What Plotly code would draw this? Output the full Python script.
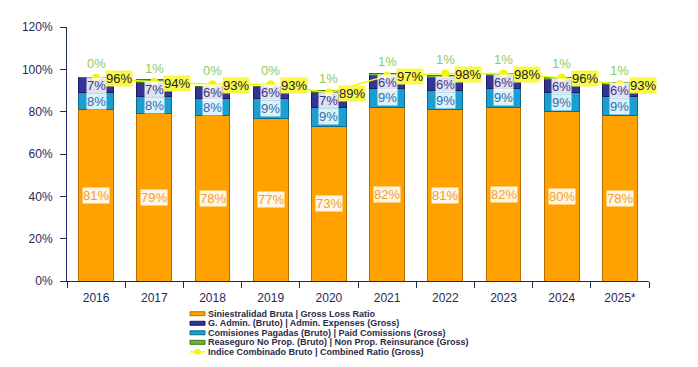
import plotly.graph_objects as go

years = ["2016", "2017", "2018", "2019", "2020", "2021", "2022", "2023", "2024", "2025*"]
loss_ratio = [81, 79, 78, 77, 73, 82, 81, 82, 80, 78]
admin_exp = [7, 7, 6, 6, 7, 6, 6, 6, 6, 6]
commissions = [8, 8, 8, 9, 9, 9, 9, 9, 9, 9]
reinsurance = [0, 1, 0, 0, 1, 1, 1, 1, 1, 1]
combined = [96, 94, 93, 93, 89, 97, 98, 98, 96, 93]

names = [
    "Siniestralidad Bruta | Gross Loss Ratio",
    "G. Admin. (Bruto) | Admin. Expenses (Gross)",
    "Comisiones Pagadas (Bruto) | Paid Comissions (Gross)",
    "Reaseguro No Prop. (Bruto) | Non Prop. Reinsurance (Gross)",
    "Indice Combinado Bruto | Combined Ratio (Gross)",
]

c_loss = "#FFA200"
c_loss_edge = "#B86E00"
c_comm = "#1B9FD0"
c_comm_edge = "#0C6A8E"
c_admin = "#343496"
c_admin_edge = "#1C1C5E"
c_re = "#6DB33F"
c_line = "#F5F500"
navy = "#1F2A5A"

fig = go.Figure()
stack = [
    (loss_ratio, names[0], c_loss, c_loss_edge),
    (commissions, names[2], c_comm, c_comm_edge),
    (admin_exp, names[1], c_admin, c_admin_edge),
    (reinsurance, names[3], c_re, "#3E7A1C"),
]
for vals, nm, col, edge in stack:
    fig.add_trace(go.Bar(x=years, y=vals, name=nm, width=0.6,
                         marker=dict(color=col, line=dict(color=edge, width=1)),
                         showlegend=False, hoverinfo="skip"))

fig.add_trace(go.Scatter(x=years, y=combined, mode="lines+markers", name=names[4],
                         line=dict(color=c_line, width=1.5),
                         marker=dict(color=c_line, size=8), showlegend=False))

ann = []
lab_font = dict(family="Arial", size=13)
for i, yr in enumerate(years):
    l, c, a = loss_ratio[i], commissions[i], admin_exp[i]
    ann.append(dict(x=i, y=l / 2, text=f"{l}%", showarrow=False,
                    font=dict(lab_font, color="#F0A030"), bgcolor="rgba(255,255,255,0.9)",
                    borderpad=0))
    ann.append(dict(x=i, y=l + c / 2, text=f"{c}%", showarrow=False,
                    font=dict(lab_font, color="#2A6FB0"), bgcolor="rgba(255,255,255,0.85)",
                    borderpad=0))
    ann.append(dict(x=i, y=l + c + a / 2, text=f"{a}%", showarrow=False,
                    font=dict(lab_font, color="#3A3A8A"), bgcolor="rgba(255,255,255,0.85)",
                    borderpad=0))
    ann.append(dict(x=i, y=combined[i], yshift=14, text=f"{reinsurance[i]}%", showarrow=False,
                    font=dict(family="Arial", size=13, color="#8CCB5E")))
    ann.append(dict(x=i, y=combined[i], xshift=23, yshift=-1, text=f"{combined[i]}%",
                    showarrow=False, font=dict(family="Arial", size=13, color="#222222"),
                    bgcolor="#F8F84A", borderpad=0))

# plot area in page pixels (body has 8px margin)
PL, PT, PW, PH = 67, 25, 582, 256
shapes = []
leg_colors = [c_loss, c_admin, c_comm, c_re, c_line]
leg_edges = [c_loss_edge, c_admin_edge, c_comm_edge, "#3E7A1C", c_line]
y0 = 314
dy = 9.6
for k, nm in enumerate(names):
    yc = y0 + k * dy
    py = 1 - (yc - PT) / PH
    ann.append(dict(xref="paper", yref="paper", x=(206 - PL) / PW, y=py,
                    xanchor="left", yanchor="middle", text="<b>" + nm + "</b>", showarrow=False,
                    font=dict(family="Arial", size=9, color="#2A2A48")))
    px0 = (190 - PL) / PW
    px1 = (205 - PL) / PW
    if k < 4:
        shapes.append(dict(type="rect", xref="paper", yref="paper", x0=px0, x1=px1,
                           y0=py - 2 / PH, y1=py + 2 / PH, fillcolor=leg_colors[k],
                           line=dict(color=leg_edges[k], width=1)))
    else:
        shapes.append(dict(type="line", xref="paper", yref="paper", x0=px0, x1=px1,
                           y0=py, y1=py, line=dict(color=c_line, width=1.5)))
        shapes.append(dict(type="circle", xref="paper", yref="paper",
                           x0=(px0 + px1) / 2 - 3 / PW, x1=(px0 + px1) / 2 + 3 / PW,
                           y0=py - 3 / PH, y1=py + 3 / PH, fillcolor=c_line,
                           line=dict(color=c_line, width=0)))

W, H = 698, 367
fig.update_layout(
    barmode="stack",
    width=W, height=H,
    margin=dict(l=PL - 8, r=W - (PL - 8) - PW, t=PT - 8, b=H - (PT - 8) - PH),
    plot_bgcolor="white", paper_bgcolor="white",
    annotations=ann, shapes=shapes,
    font=dict(family="Arial", color=navy),
)
fig.update_xaxes(type="category", range=[-0.5, len(years) - 0.5], showline=True, linecolor=navy,
                 linewidth=1, ticks="outside", ticklabelstandoff=6,
                 tickson="boundaries", ticklen=6, tickcolor=navy, tickangle=0,
                 tickfont=dict(family="Arial", size=12, color=navy), showgrid=False)
fig.update_yaxes(range=[0, 120], dtick=20, ticksuffix="%", showline=True, linecolor=navy,
                 ticks="outside", ticklen=6, tickcolor=navy, showgrid=False, zeroline=False,
                 ticklabelstandoff=5,
                 tickfont=dict(family="Arial", size=12, color=navy))

fig.write_html("out.html")
